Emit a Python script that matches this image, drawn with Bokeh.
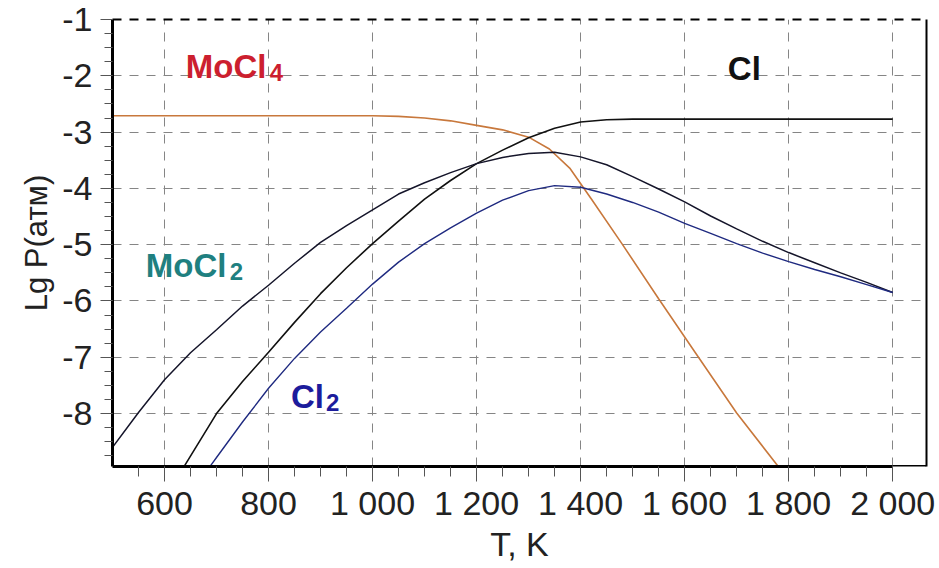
from bokeh.plotting import figure
from bokeh.models import FixedTicker, LinearAxis, Range1d
from bokeh.core.properties import value
from bokeh.embed import file_html
from bokeh.resources import INLINE

# Partial pressures of the Mo–Cl system, lg P (atm) against T (K)
MOCL4_T = [500, 600, 700, 800, 900, 1000, 1050, 1100, 1150, 1200, 1250, 1300,
           1340, 1380, 1420, 1480, 1550, 1620, 1700, 1780]
MOCL4_LGP = [-2.71, -2.71, -2.71, -2.71, -2.71, -2.71, -2.72, -2.75, -2.80, -2.88,
             -2.96, -3.09, -3.30, -3.65, -4.18, -4.99, -5.96, -6.91, -7.99, -8.94]

CL_T = [639, 700, 750, 800, 850, 900, 950, 1000, 1050, 1100, 1150, 1200, 1250,
        1300, 1350, 1400, 1450, 1500, 1600, 1800, 2000]
CL_LGP = [-8.92, -8.00, -7.43, -6.91, -6.38, -5.87, -5.41, -4.98, -4.58, -4.19,
          -3.86, -3.56, -3.32, -3.10, -2.93, -2.82, -2.78, -2.77, -2.77, -2.77, -2.77]

MOCL2_T = [500, 550, 600, 650, 700, 750, 800, 850, 900, 950, 1000, 1050, 1100,
           1150, 1200, 1250, 1300, 1350, 1400, 1450, 1500, 1550, 1600, 1650,
           1700, 1750, 1800, 1850, 1900, 1950, 2000]
MOCL2_LGP = [-8.60, -7.98, -7.40, -6.92, -6.51, -6.09, -5.72, -5.33, -4.96, -4.66,
             -4.38, -4.10, -3.90, -3.72, -3.56, -3.45, -3.38, -3.36, -3.44, -3.58,
             -3.79, -4.01, -4.24, -4.49, -4.72, -4.94, -5.14, -5.32, -5.50, -5.67, -5.85]

CL2_T = [689, 700, 750, 800, 850, 900, 950, 1000, 1050, 1100, 1150, 1200, 1250,
         1300, 1350, 1400, 1450, 1500, 1550, 1600, 1650, 1700, 1750, 1800, 1850,
         1900, 1950, 2000]
CL2_LGP = [-8.92, -8.78, -8.15, -7.55, -7.02, -6.55, -6.13, -5.70, -5.31, -4.98,
           -4.70, -4.44, -4.21, -4.04, -3.95, -3.98, -4.10, -4.25, -4.42, -4.62,
           -4.80, -4.98, -5.15, -5.30, -5.44, -5.57, -5.71, -5.85]

# Species labels next to their curves: formula body plus subscript digit
LABEL_TEXT = ["MoCl", "Cl", "MoCl", "Cl"]
LABEL_SUB = ["4", "", "2", "2"]
LABEL_T = [641, 1683, 564, 843]
LABEL_LGP = [-1.84, -1.87, -5.37, -7.70]
LABEL_COLORS = ["#cc1f2f", "#111111", "#1f8080", "#1c1c9c"]
SUB_SHIFT = [84, 34, 84, 35]

X_TICKS = [600, 800, 1000, 1200, 1400, 1600, 1800, 2000]
X_TICK_LABELS = ["600", "800", "1 000", "1 200", "1 400", "1 600", "1 800", "2 000"]
Y_TICKS = [-8, -7, -6, -5, -4, -3, -2, -1]
Y_TICK_LABELS = ["-8", "-7", "-6", "-5", "-4", "-3", "-2", "-1"]

X_START, X_END = 500, 2065
Y_START, Y_END = -8.94, -1

FONT = "Liberation Sans"

p = figure(
    frame_width=814, frame_height=447,
    min_border_left=112, min_border_right=13, min_border_top=19, min_border_bottom=96,
    x_range=Range1d(X_START, X_END), y_range=Range1d(Y_START, Y_END),
    output_backend="svg", toolbar_location=None, title=None,
)
p.background_fill_color = "white"
p.border_fill_color = "white"
p.outline_line_color = None

# Axes
p.xaxis.ticker = FixedTicker(ticks=X_TICKS, minor_ticks=list(range(550, 2001, 50)))
p.yaxis.ticker = FixedTicker(ticks=Y_TICKS,
                             minor_ticks=[-8.75 + 0.25 * i for i in range(32)])
p.xaxis.major_label_overrides = dict(zip(X_TICKS, X_TICK_LABELS))
p.yaxis.major_label_overrides = dict(zip(Y_TICKS, Y_TICK_LABELS))
p.xaxis.bounds = (X_START, 2000)

for ax in (p.xaxis, p.yaxis):
    ax.axis_line_color = "black"
    ax.axis_line_width = 3
    ax.major_tick_in = 0
    ax.minor_tick_in = 0
    ax.major_tick_line_color = "#555555"
    ax.minor_tick_line_color = "#555555"
    ax.major_label_text_font = FONT
    ax.major_label_text_font_size = "34px"
    ax.major_label_text_color = "#222222"
    ax.axis_label_text_font = FONT
    ax.axis_label_text_font_style = "normal"
    ax.axis_label_text_color = "#222222"

p.xaxis.major_tick_out = 15
p.xaxis.minor_tick_out = 10
p.xaxis.major_label_standoff = 2
p.xaxis.axis_label = "T, K"
p.xaxis.axis_label_text_font_size = "34px"
p.xaxis.axis_label_standoff = 0

p.yaxis.major_tick_out = 12
p.yaxis.minor_tick_out = 8
p.yaxis.major_label_standoff = 8
p.yaxis.axis_label = "Lg P(атм)"
p.yaxis.axis_label_text_font_size = "31px"
p.yaxis.axis_label_standoff = 5


def edge_axis(**line):
    """Bare axis used only as a frame edge line."""
    ax = LinearAxis(ticker=FixedTicker(ticks=[]), major_tick_out=0, major_tick_in=0,
                    minor_tick_out=0, minor_tick_in=0, major_label_standoff=0,
                    axis_line_color="black", **line)
    return ax


p.add_layout(edge_axis(axis_line_width=2), "right")
p.add_layout(edge_axis(axis_line_width=2, axis_line_dash="9 8"), "above")

# Dashed grid
p.grid.grid_line_color = "#858585"
p.grid.grid_line_dash = "9 8"
p.grid.grid_line_width = 1

# Thin bottom edge past the last tick
p.segment(x0=[2000], y0=[Y_START], x1=[X_END], y1=[Y_START],
          line_color="black", line_width=3)

# Curves
p.line(MOCL4_T, MOCL4_LGP, line_color="#c8783c", line_width=1.6)
p.line(CL_T, CL_LGP, line_color="#111111", line_width=1.6)
p.line(MOCL2_T, MOCL2_LGP, line_color="#15152a", line_width=1.5)
p.line(CL2_T, CL2_LGP, line_color="#1f2a80", line_width=1.4)

p.text(x=LABEL_T, y=LABEL_LGP, text=LABEL_TEXT, text_color=LABEL_COLORS,
       text_font=value(FONT), text_font_style="bold", text_font_size="33px",
       text_baseline="alphabetic", text_align="left")
p.text(x=LABEL_T, y=LABEL_LGP, text=LABEL_SUB, text_color=LABEL_COLORS,
       x_offset=SUB_SHIFT, y_offset=6,
       text_font=value(FONT), text_font_style="bold", text_font_size="24px",
       text_baseline="alphabetic", text_align="left")

open("out.html", "w").write(file_html(p, INLINE))
